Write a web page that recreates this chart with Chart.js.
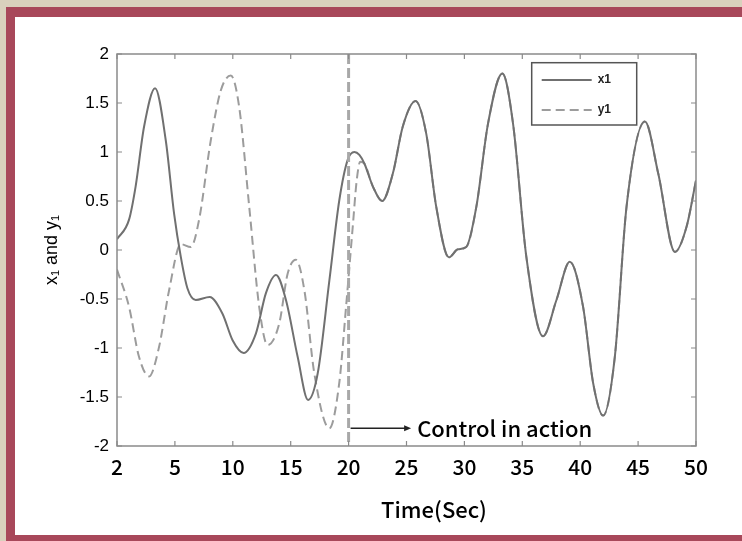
<!DOCTYPE html>
<html>
<head>
<meta charset="utf-8">
<script src="https://cdn.jsdelivr.net/npm/chart.js@4.4.0/dist/chart.umd.min.js"></script>
<style>
html,body{margin:0;padding:0;width:742px;height:541px;overflow:hidden;background:#d9d1bd;}
#frame{position:absolute;left:6px;top:7px;width:736px;height:534px;background:#a8485a;}
#inner{position:absolute;left:15px;top:17px;width:727px;height:518px;background:#ffffff;}
#wrap{position:absolute;left:0;top:0;width:742px;height:541px;}
</style>
</head>
<body>
<div id="frame"></div>
<div id="inner"></div>
<div id="wrap"><canvas id="c" width="742" height="541"></canvas></div>
<script>
// ---- data ----
const xTickLabels = ['2','5','10','15','20','25','30','35','40','45','50'];
const yTickLabels = ['-2','-1.5','-1','-0.5','0','0.5','1','1.5','2'];
const seriesLabels = ['x1','y1'];

const x1Time = [0, 1.04, 1.61, 2.34, 3.29, 4.21, 4.93, 5.51, 6.08, 6.8, 8.0, 9.11, 9.98, 10.94, 12.0, 12.86, 13.73, 14.59, 15.6, 16.5, 17.33, 18.34, 19.2, 19.92, 20.5, 20.93, 21.37, 22.09, 22.9, 23.82, 24.68, 25.78, 26.7, 27.57, 28.66, 29.44, 30.16, 31.03, 32.04, 33.28, 34.2, 35.35, 36.79, 37.95, 39.1, 40.25, 41.12, 41.98, 42.99, 44.0, 45.59, 46.74, 48.18, 49.19, 50];
const x1Values = [0.11, 0.31, 0.65, 1.26, 1.65, 1.12, 0.37, -0.07, -0.39, -0.51, -0.48, -0.65, -0.92, -1.05, -0.85, -0.44, -0.255, -0.51, -1.09, -1.53, -1.26, -0.31, 0.51, 0.92, 1.0, 0.97, 0.88, 0.65, 0.50, 0.78, 1.26, 1.52, 1.19, 0.44, -0.075, 0.007, 0.03, 0.44, 1.29, 1.80, 1.29, -0.07, -0.88, -0.51, -0.12, -0.58, -1.36, -1.69, -1.09, 0.44, 1.31, 0.78, -0.02, 0.24, 0.71];

const y1Time = [0, 1.04, 1.9, 2.77, 3.63, 4.5, 5.51, 6.37, 7.09, 8.1, 8.97, 9.83, 10.55, 11.42, 12.28, 13.0, 14.01, 14.74, 15.45, 16.18, 17.04, 18.34, 19.2, 19.78, 20.36, 20.7, 21.0];
const y1Values = [-0.2, -0.58, -1.09, -1.29, -0.99, -0.41, 0.06, 0.03, 0.31, 1.12, 1.63, 1.78, 1.46, 0.44, -0.58, -0.97, -0.75, -0.24, -0.10, -0.41, -1.26, -1.82, -1.35, -0.58, 0.24, 0.71, 0.90];
const mergeTime = 21.37;   // after this y1 follows x1

const controlTime = 20;
const arrowLevel = -1.82;
const arrowEndTime = 25.4;
const controlLabel = 'Control in action';
const xTitle = 'Time(Sec)';
const yTitle = 'x\u2081 and y\u2081';

// ---- build points ----
const x1Points = x1Time.map((t, i) => ({x: t, y: x1Values[i]}));
const y1Points = y1Time.map((t, i) => ({x: t, y: y1Values[i]}))
  .concat(x1Points.filter(p => p.x >= mergeTime));

const CJK = "'Noto Sans CJK JP', 'Noto Sans', sans-serif";
const SANS = "'Liberation Sans', Arial, sans-serif";

const decor = {
  id: 'decor',
  afterDatasetsDraw(chart) {
    const {ctx, chartArea: a, scales: {x, y}} = chart;
    ctx.save();
    // control line
    const cx = x.getPixelForValue(controlTime);
    ctx.strokeStyle = '#a8a8a8';
    ctx.lineWidth = 3;
    ctx.setLineDash([10, 4]);
    ctx.beginPath(); ctx.moveTo(cx, a.top); ctx.lineTo(cx, a.bottom); ctx.stroke();
    ctx.setLineDash([]);
    // axes box
    ctx.strokeStyle = '#8a8a8a';
    ctx.lineWidth = 1.5;
    ctx.strokeRect(a.left, a.top, a.right - a.left, a.bottom - a.top);
    // inward ticks
    ctx.lineWidth = 1.2;
    ctx.beginPath();
    x.ticks.forEach(t => {
      const px = x.getPixelForValue(t.value);
      ctx.moveTo(px, a.bottom); ctx.lineTo(px, a.bottom - 5);
      ctx.moveTo(px, a.top); ctx.lineTo(px, a.top + 5);
    });
    y.ticks.forEach(t => {
      const py = y.getPixelForValue(t.value);
      ctx.moveTo(a.left, py); ctx.lineTo(a.left + 5, py);
      ctx.moveTo(a.right, py); ctx.lineTo(a.right - 5, py);
    });
    ctx.stroke();
    // arrow + label
    const ay = y.getPixelForValue(arrowLevel);
    const ax2 = x.getPixelForValue(arrowEndTime);
    ctx.strokeStyle = '#222';
    ctx.fillStyle = '#222';
    ctx.lineWidth = 1.5;
    ctx.beginPath(); ctx.moveTo(cx + 2, ay); ctx.lineTo(ax2 - 3, ay); ctx.stroke();
    ctx.beginPath(); ctx.moveTo(ax2, ay); ctx.lineTo(ax2 - 7, ay - 3); ctx.lineTo(ax2 - 7, ay + 3); ctx.closePath(); ctx.fill();
    ctx.fillStyle = '#000';
    ctx.font = '500 22px ' + CJK;
    ctx.textAlign = 'left';
    ctx.textBaseline = 'middle';
    ctx.fillText(controlLabel, ax2 + 6, ay);
    // x title
    ctx.textAlign = 'center';
    ctx.fillText(xTitle, a.left + (a.right - a.left) * 0.5475, a.bottom + 64);
    // legend
    const lx = a.right - 164.3, ly = a.top + 8.7, lw = 105, lh = 62.3;
    ctx.fillStyle = '#fff';
    ctx.fillRect(lx, ly, lw, lh);
    ctx.strokeStyle = '#555';
    ctx.lineWidth = 1.5;
    ctx.strokeRect(lx, ly, lw, lh);
    chart.data.datasets.forEach((ds, i) => {
      const yy = ly + 17.3 + i * 30;
      ctx.strokeStyle = ds.borderColor;
      ctx.lineWidth = 2;
      ctx.setLineDash(ds.borderDash || []);
      ctx.beginPath(); ctx.moveTo(lx + 10, yy); ctx.lineTo(lx + 60, yy); ctx.stroke();
      ctx.setLineDash([]);
      ctx.fillStyle = '#222';
      ctx.font = 'bold 12px ' + SANS;
      ctx.textAlign = 'left';
      ctx.fillText(ds.label, lx + 66, yy);
    });
    ctx.restore();
  }
};

new Chart(document.getElementById('c'), {
  type: 'line',
  data: {
    datasets: [
      {label: seriesLabels[0], data: x1Points, borderColor: '#707070', borderWidth: 2, pointRadius: 0, fill: false, cubicInterpolationMode: 'monotone'},
      {label: seriesLabels[1], data: y1Points, borderColor: '#9c9c9c', borderWidth: 2, borderDash: [9, 5], pointRadius: 0, fill: false, cubicInterpolationMode: 'monotone'}
    ]
  },
  options: {
    responsive: false,
    devicePixelRatio: 1,
    animation: false,
    layout: {padding: {left: 0, top: 54, right: 46, bottom: 0}},
    plugins: {legend: {display: false}, tooltip: {enabled: false}},
    scales: {
      x: {
        type: 'linear', min: 0, max: 50,
        grid: {display: false, drawTicks: false},
        border: {display: false},
        ticks: {stepSize: 5, padding: 8, color: '#000', font: {family: CJK, size: 21, weight: '500'},
                maxRotation: 0, autoSkip: false,
                callback: (v, i) => xTickLabels[i]},
        afterFit: s => { s.height = 95; }
      },
      y: {
        type: 'linear', min: -2, max: 2,
        grid: {display: false, drawTicks: false},
        border: {display: false},
        ticks: {stepSize: 0.5, padding: 8, color: '#000', font: {family: SANS, size: 17},
                callback: (v, i) => yTickLabels[i]},
        title: {display: true, text: yTitle, color: '#000', font: {family: SANS, size: 18}, padding: {top: 41, bottom: 0}},
        afterFit: s => { s.width = 117; }
      }
    }
  },
  plugins: [decor]
});
</script>
</body>
</html>
